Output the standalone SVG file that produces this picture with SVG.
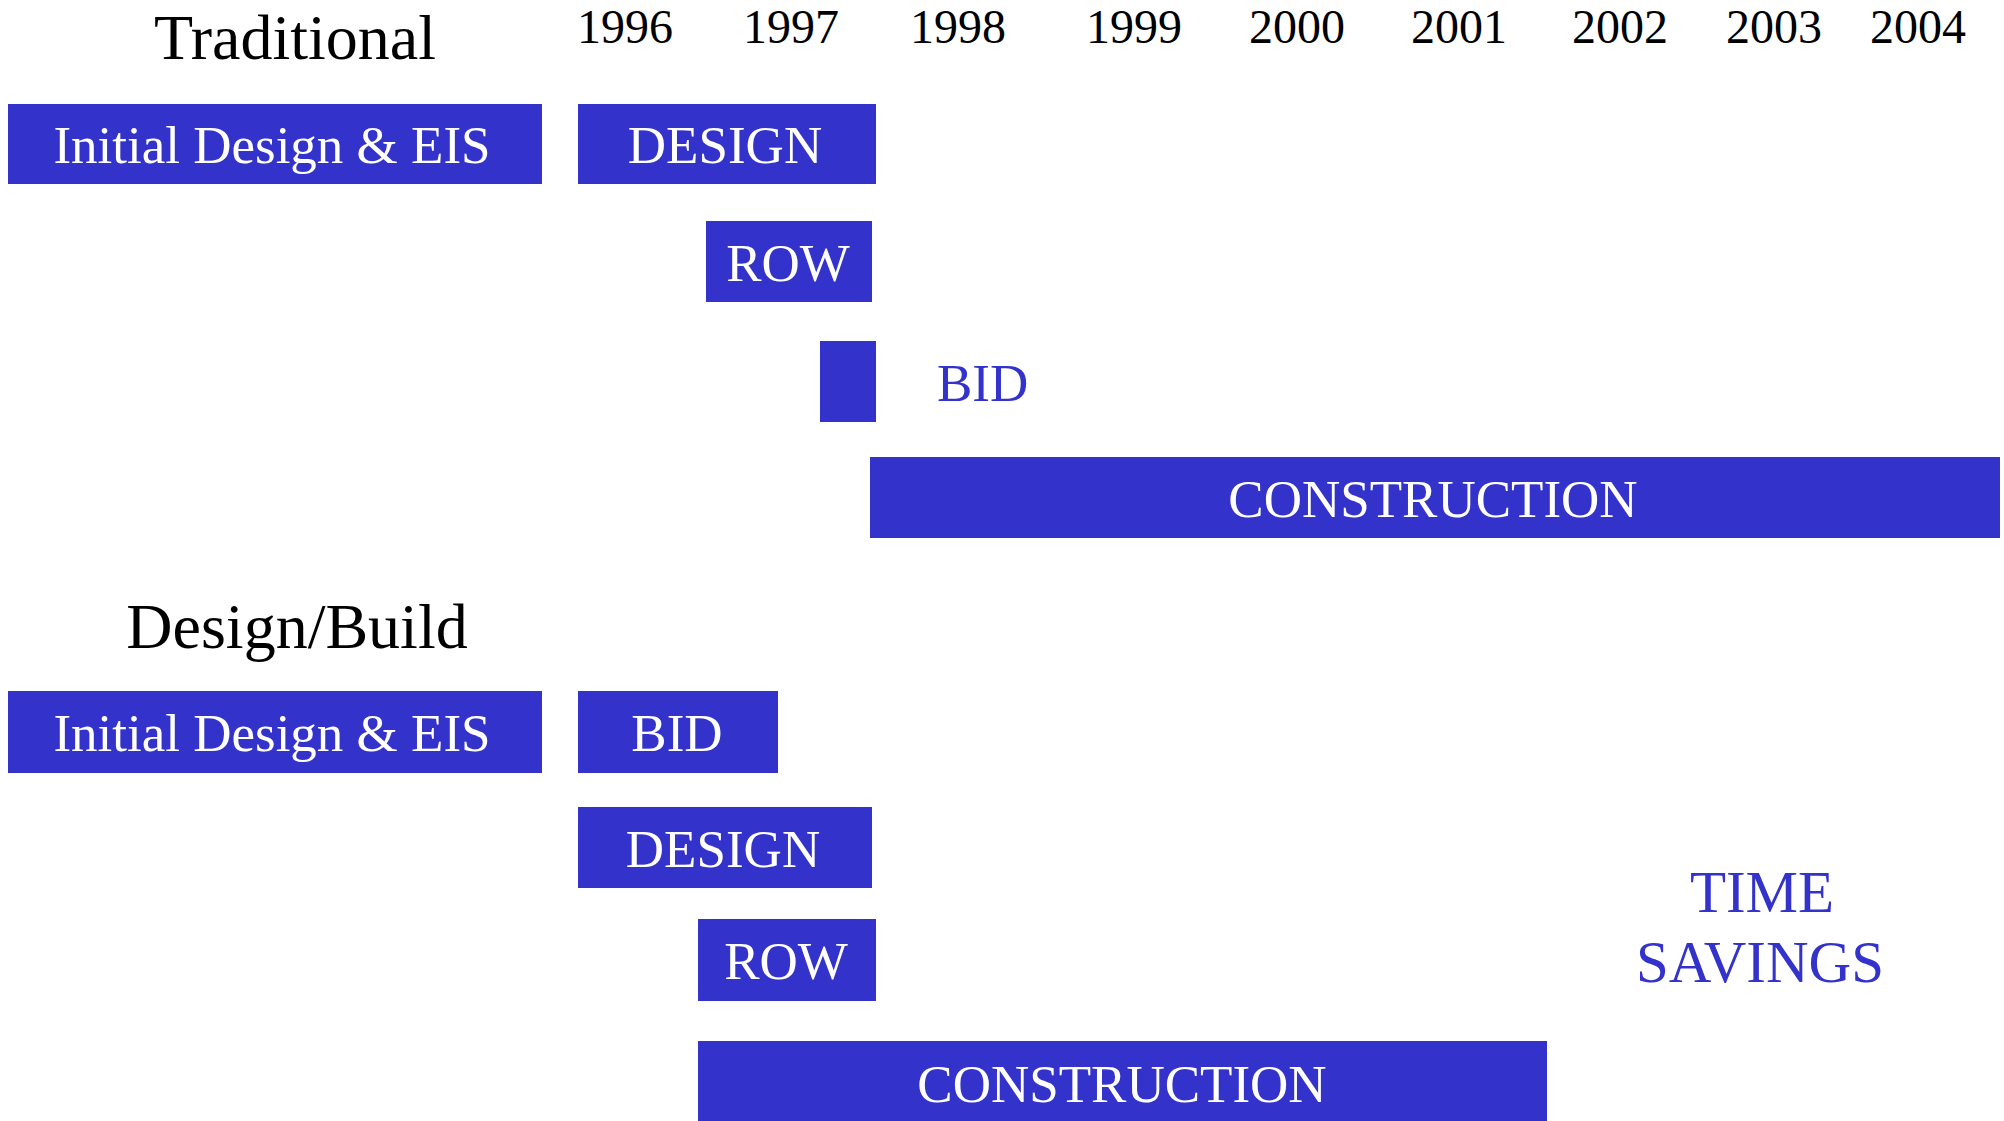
<svg xmlns="http://www.w3.org/2000/svg" width="2004" height="1121" viewBox="0 0 2004 1121">
<style>
  text { font-family: "Liberation Serif", "Times New Roman", serif; }
  .bar { fill: #3333cc; }
  .lbl { fill: #ffffff; font-size: 53px; text-anchor: middle; }
  .head { fill: #000000; font-size: 64px; text-anchor: middle; }
  .year { fill: #000000; font-size: 48px; }
  .blue { fill: #3333cc; font-size: 53px; }
  .big { fill: #3333cc; font-size: 59px; text-anchor: middle; }
</style>
<rect width="2004" height="1121" fill="#ffffff"/>
<g id="years">
  <text class="year" x="577" y="43">1996</text>
  <text class="year" x="743" y="43">1997</text>
  <text class="year" x="910" y="43">1998</text>
  <text class="year" x="1086" y="43">1999</text>
  <text class="year" x="1249" y="43">2000</text>
  <text class="year" x="1411" y="43">2001</text>
  <text class="year" x="1572" y="43">2002</text>
  <text class="year" x="1726" y="43">2003</text>
  <text class="year" x="1870" y="43">2004</text>
</g>
<g id="traditional">
  <text class="head" x="295" y="59">Traditional</text>
  <g id="t-initial"><rect class="bar" x="8" y="104" width="534" height="80"/><text class="lbl" x="272" y="163">Initial Design &amp; EIS</text></g>
  <g id="t-design"><rect class="bar" x="578" y="104" width="298" height="80"/><text class="lbl" x="725" y="163">DESIGN</text></g>
  <g id="t-row"><rect class="bar" x="706" y="221" width="166" height="81"/><text class="lbl" x="788" y="281">ROW</text></g>
  <g id="t-bid"><rect class="bar" x="820" y="341" width="56" height="81"/><text class="blue" x="937" y="401">BID</text></g>
  <g id="t-construction"><rect class="bar" x="870" y="457" width="1130" height="81"/><text class="lbl" x="1433" y="517">CONSTRUCTION</text></g>
</g>
<g id="designbuild">
  <text class="head" x="297" y="648">Design/Build</text>
  <g id="d-initial"><rect class="bar" x="8" y="691" width="534" height="82"/><text class="lbl" x="272" y="751">Initial Design &amp; EIS</text></g>
  <g id="d-bid"><rect class="bar" x="578" y="691" width="200" height="82"/><text class="lbl" x="677" y="751">BID</text></g>
  <g id="d-design"><rect class="bar" x="578" y="807" width="294" height="81"/><text class="lbl" x="723" y="867">DESIGN</text></g>
  <g id="d-row"><rect class="bar" x="698" y="919" width="178" height="82"/><text class="lbl" x="786" y="979">ROW</text></g>
  <g id="d-construction"><rect class="bar" x="698" y="1041" width="849" height="80"/><text class="lbl" x="1122" y="1102">CONSTRUCTION</text></g>
  <g id="time-savings"><text class="big" x="1762" y="912">TIME</text><text class="big" x="1760" y="982">SAVINGS</text></g>
</g>
<g id="connectors"/>
</svg>
